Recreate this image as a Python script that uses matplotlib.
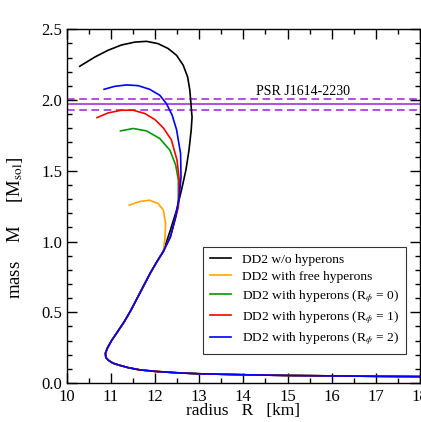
import numpy as np
import matplotlib
matplotlib.use("Agg")
import matplotlib.pyplot as plt
from matplotlib.ticker import MultipleLocator, FormatStrFormatter

plt.rcParams['font.family'] = ['Liberation Serif', 'DejaVu Serif']
plt.rcParams['mathtext.fontset'] = 'stix'

# shared low-mass branch (R in km, M in M_sol), from large radius inwards
R_low = [18.0, 17.0, 16.0, 15.0, 14.0, 13.0, 12.5, 12.0, 11.65, 11.4, 11.2, 11.05, 10.95,
         10.89, 10.88, 10.93, 11.02, 11.15, 11.3, 11.45, 11.6, 11.75, 11.9, 12.05, 12.19]
M_low = [0.045, 0.047, 0.050, 0.053, 0.058, 0.065, 0.072, 0.082, 0.093, 0.108, 0.125, 0.14, 0.16,
         0.18, 0.21, 0.25, 0.30, 0.36, 0.43, 0.51, 0.60, 0.69, 0.78, 0.86, 0.93]

# upper branches, continuing from the shared branch
R_noh = [12.35, 12.49, 12.60, 12.70, 12.77, 12.82, 12.84, 12.82, 12.79, 12.74, 12.64, 12.49,
         12.30, 12.07, 11.81, 11.55, 11.24, 10.94, 10.64, 10.30]
M_noh = [1.081, 1.222, 1.363, 1.504, 1.645, 1.787, 1.88, 1.951, 2.069, 2.163, 2.246, 2.316,
         2.364, 2.399, 2.415, 2.41, 2.389, 2.352, 2.304, 2.239]

R_free = [12.23, 12.24, 12.19, 12.07, 11.88, 11.66, 11.42]
M_free = [1.033, 1.128, 1.222, 1.269, 1.292, 1.283, 1.257]

R_r0 = [12.35, 12.47, 12.53, 12.53, 12.53, 12.47, 12.34, 12.11, 11.81, 11.51, 11.22]
M_r0 = [1.033, 1.175, 1.26, 1.34, 1.434, 1.54, 1.645, 1.728, 1.782, 1.799, 1.782]

R_r1 = [12.35, 12.47, 12.53, 12.54, 12.55, 12.50, 12.37, 12.19, 12.0, 11.77, 11.51, 11.24, 10.94, 10.69]
M_r1 = [1.033, 1.175, 1.245, 1.316, 1.434, 1.575, 1.72, 1.803, 1.862, 1.905, 1.928, 1.928, 1.909, 1.876]

R_r2 = [12.35, 12.47, 12.55, 12.59, 12.58, 12.49, 12.39, 12.26, 12.11, 11.88, 11.62, 11.36, 11.09, 10.85]
M_r2 = [1.033, 1.175, 1.316, 1.457, 1.622, 1.79, 1.893, 1.975, 2.034, 2.076, 2.102, 2.107, 2.097, 2.076]

psr_mass = 1.97
psr_err = 0.04

labels = ["DD2 w/o hyperons", "DD2 with free hyperons",
          r"DD2 with hyperons (R$_\phi$ = 0)", r"DD2 with hyperons (R$_\phi$ = 1)",
          r"DD2 with hyperons (R$_\phi$ = 2)"]
colors = ["black", "#ffa500", "#009900", "#ff0000", "#0000ff"]

fig = plt.figure(figsize=(4.21, 4.22), dpi=100)
ax = fig.add_axes([0.158, 0.0925, 0.84, 0.838])

purple = "#9b1fe0"
ax.axhline(psr_mass, color=purple, lw=1.1)
ax.axhline(psr_mass + psr_err, color=purple, lw=1.1, ls=(0, (5, 3)))
ax.axhline(psr_mass - psr_err, color=purple, lw=1.1, ls=(0, (5, 3)))
ax.text(15.36, 2.035, "PSR J1614-2230", ha="center", va="baseline", fontsize=10)

uppers = [(R_noh, M_noh), (R_free, M_free), (R_r0, M_r0), (R_r1, M_r1), (R_r2, M_r2)]
for (ru, mu), c, lab in zip(uppers, colors, labels):
    ax.plot(R_low + ru, M_low + mu, color=c, lw=1.2, label=lab, solid_joinstyle='round')

ax.set_xlim(10, 18)
ax.set_ylim(0, 2.5)
ax.xaxis.set_major_locator(MultipleLocator(1))
ax.xaxis.set_minor_locator(MultipleLocator(0.5))
ax.yaxis.set_major_locator(MultipleLocator(0.5))
ax.yaxis.set_minor_locator(MultipleLocator(0.1))
ax.yaxis.set_major_formatter(FormatStrFormatter('%.1f'))
ax.tick_params(which='both', direction='in', top=True, right=True, labelsize=12)
ax.tick_params(which='major', length=7, width=1)
ax.tick_params(which='minor', length=3.5, width=1)
ax.tick_params(axis='x', pad=4)
ax.tick_params(axis='y', pad=3)
for s in ax.spines.values():
    s.set_linewidth(1.0)

ax.set_xlabel("radius   R   [km]", fontsize=12.5, labelpad=-1)
ax.set_ylabel(r"mass    M     [M$_{\rm sol}$]", fontsize=13.5)
ax.yaxis.set_label_coords(-0.118, 0.44)

leg = ax.legend(loc="upper left", bbox_to_anchor=(0.386, 0.385), borderaxespad=0,
                fontsize=9.7, frameon=True, fancybox=False, handlelength=1.6,
                labelspacing=0.35, borderpad=0.5)
leg.get_frame().set_edgecolor("black")
leg.get_frame().set_linewidth(0.8)

fig.savefig("out.png", dpi=100)
